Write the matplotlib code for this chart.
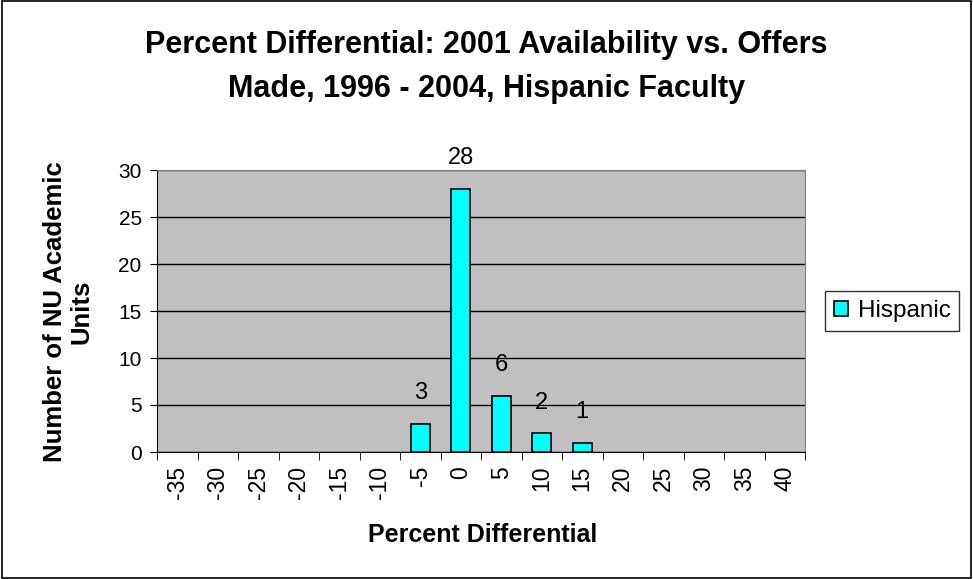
import matplotlib.pyplot as plt
import matplotlib.patches as mpatches
import numpy as np

plt.rcParams['font.family'] = ['Liberation Sans', 'DejaVu Sans']

categories = ['-35', '-30', '-25', '-20', '-15', '-10', '-5', '0', '5',
              '10', '15', '20', '25', '30', '35', '40']
hispanic = [0, 0, 0, 0, 0, 0, 3, 28, 6, 2, 1, 0, 0, 0, 0, 0]

fig = plt.figure(figsize=(9.73, 5.79), dpi=100)
# outer chart border
fig.patches.append(plt.Rectangle((0.002, 0.002), 0.996, 0.996, transform=fig.transFigure,
                                 fill=False, edgecolor='black', linewidth=1.2))

ax = fig.add_axes([157 / 973, 1 - 452 / 579, (805 - 157) / 973, (452 - 170) / 579])
ax.set_facecolor('#c0c0c0')

x = np.arange(len(categories))
# zero-height bars get no outline so they don't leave a stub on the axis
lw = [1.2 if v > 0 else 0 for v in hispanic]
ax.bar(x, hispanic, width=0.46, color='#00ffff', edgecolor='black',
       linewidth=lw, zorder=3)
for xi, v in zip(x, hispanic):
    if v > 0:
        ax.annotate(str(v), (xi, v), xytext=(0, 14), textcoords='offset points',
                    ha='center', va='bottom', fontsize=17)

ax.set_xlim(-0.5, len(categories) - 0.5)
ax.set_ylim(0, 30)
ax.set_yticks(range(0, 31, 5))
ax.yaxis.grid(True, color='black', linewidth=1)
ax.set_axisbelow(True)

ax.set_xticks(x)
ax.set_xticklabels(categories, rotation=90, fontsize=16.5)
ax.set_xticks(np.arange(-0.5, len(categories), 1), minor=True)
ax.tick_params(axis='x', which='major', length=0, pad=10)
ax.tick_params(axis='x', which='minor', length=6, color='black')
ax.tick_params(axis='y', labelsize=15, length=5, pad=6)

for side in ['top', 'right']:
    ax.spines[side].set_color('#808080')
for side in ['left', 'bottom']:
    ax.spines[side].set_color('black')

fig.text(483 / 973, 1 - 535 / 579, 'Percent Differential', ha='center', va='center',
         fontsize=18, fontweight='bold')
fig.text(55 / 973, 1 - 312 / 579, 'Number of NU Academic', ha='center', va='center',
         rotation=90, fontsize=18.5, fontweight='bold')
fig.text(82 / 973, 1 - 312 / 579, 'Units', ha='center', va='center',
         rotation=90, fontsize=18.5, fontweight='bold')

fig.text(0.5, 1 - 45 / 579, 'Percent Differential: 2001 Availability vs. Offers',
         ha='center', va='center', fontsize=22, fontweight='bold')
fig.text(0.5, 1 - 89 / 579, 'Made, 1996 - 2004, Hispanic Faculty',
         ha='center', va='center', fontsize=22, fontweight='bold')

handle = mpatches.Patch(facecolor='#00ffff', edgecolor='black', linewidth=1.2, label='Hispanic')
leg = fig.legend(handles=[handle], loc='center left', bbox_to_anchor=(825 / 973, 1 - 311 / 579),
                 fontsize=17.5, frameon=True, fancybox=False, edgecolor='black',
                 handlelength=0.6, handleheight=0.6, handletextpad=0.4, borderpad=0.35,
                 borderaxespad=0)
leg.get_frame().set_linewidth(1)

fig.savefig('out.png', dpi=100)
